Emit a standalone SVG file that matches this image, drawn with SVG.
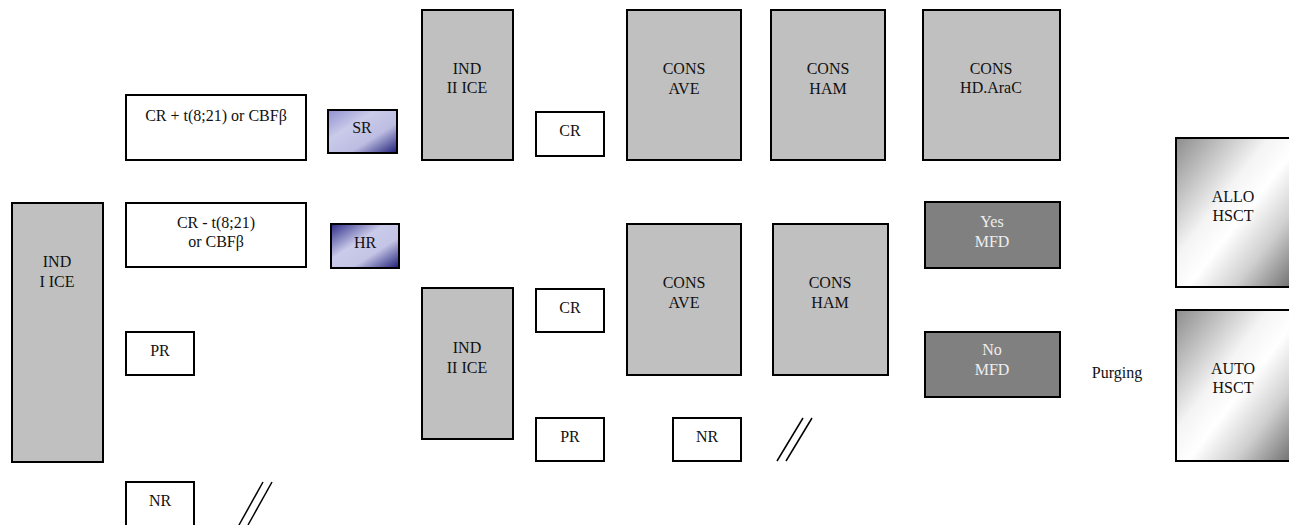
<svg xmlns="http://www.w3.org/2000/svg" width="1289" height="525" viewBox="0 0 1289 525">
<defs>
<linearGradient id="gSR" x1="0" y1="0" x2="1" y2="1">
<stop offset="0" stop-color="#9090cf"/><stop offset="0.35" stop-color="#cacaea"/><stop offset="0.65" stop-color="#bdbde2"/><stop offset="1" stop-color="#1c1c78"/>
</linearGradient>
<linearGradient id="gHR" x1="0" y1="0" x2="1" y2="1">
<stop offset="0" stop-color="#2a2a85"/><stop offset="0.4" stop-color="#cacaea"/><stop offset="0.65" stop-color="#c4c4e6"/><stop offset="1" stop-color="#1c1c78"/>
</linearGradient>
<linearGradient id="gSil" x1="0" y1="0" x2="1" y2="1">
<stop offset="0" stop-color="#8c8c8c"/><stop offset="0.4" stop-color="#f4f4f4"/><stop offset="0.55" stop-color="#ffffff"/><stop offset="0.75" stop-color="#d0d0d0"/><stop offset="1" stop-color="#6e6e6e"/>
</linearGradient>
</defs>
<style>
rect{stroke:#000;stroke-width:2}
.w{fill:#fff}
.g{fill:#c0c0c0}
.d{fill:#808080}
text{font-family:"Times New Roman","Liberation Serif",Times,serif;font-size:16px;text-anchor:middle;fill:#111}
.lt{fill:#eeeeee}
.sl{stroke:#000;stroke-width:1.5;fill:none}
</style>
<rect width="1289" height="525" fill="#fff" style="stroke:none"/>
<g id="ind1"><rect class="g" x="12" y="203" width="91" height="259"/><text x="57" y="267">IND</text><text x="57" y="287">I ICE</text></g>
<g id="crplus"><rect class="w" x="126" y="95" width="180" height="65"/><text x="216" y="121">CR + t(8;21) or CBFβ</text></g>
<g id="sr"><rect x="328" y="110" width="69" height="43" fill="url(#gSR)"/><text x="362" y="133">SR</text></g>
<g id="crminus"><rect class="w" x="126" y="203" width="180" height="64"/><text x="216" y="228">CR - t(8;21)</text><text x="216" y="247">or CBFβ</text></g>
<g id="hr"><rect x="331" y="224" width="68" height="44" fill="url(#gHR)"/><text x="365" y="248">HR</text></g>
<g id="pr1"><rect class="w" x="126" y="332" width="68" height="43"/><text x="160" y="356">PR</text></g>
<g id="nr1"><rect class="w" x="126" y="482" width="68" height="44"/><text x="160" y="506">NR</text></g>
<g id="ind2a"><rect class="g" x="422" y="10" width="91" height="150"/><text x="467" y="74">IND</text><text x="467" y="93">II ICE</text></g>
<g id="cr2a"><rect class="w" x="536" y="112" width="68" height="44"/><text x="570" y="136">CR</text></g>
<g id="avea"><rect class="g" x="627" y="10" width="114" height="150"/><text x="684" y="74">CONS</text><text x="684" y="94">AVE</text></g>
<g id="hama"><rect class="g" x="771" y="10" width="114" height="150"/><text x="828" y="74">CONS</text><text x="828" y="94">HAM</text></g>
<g id="hdarac"><rect class="g" x="923" y="10" width="137" height="150"/><text x="991" y="74">CONS</text><text x="991" y="93">HD.AraC</text></g>
<g id="yesmfd"><rect class="d" x="925" y="202" width="135" height="66"/><text class="lt" x="992" y="227">Yes</text><text class="lt" x="992" y="247">MFD</text></g>
<g id="allo"><rect x="1176" y="138" width="116" height="149" fill="url(#gSil)"/><text x="1233" y="202">ALLO</text><text x="1233" y="221">HSCT</text></g>
<g id="ind2b"><rect class="g" x="422" y="288" width="91" height="151"/><text x="467" y="353">IND</text><text x="467" y="373">II ICE</text></g>
<g id="cr2b"><rect class="w" x="536" y="289" width="68" height="43"/><text x="570" y="313">CR</text></g>
<g id="aveb"><rect class="g" x="627" y="224" width="114" height="151"/><text x="684" y="288">CONS</text><text x="684" y="308">AVE</text></g>
<g id="hamb"><rect class="g" x="773" y="224" width="115" height="151"/><text x="830" y="288">CONS</text><text x="830" y="308">HAM</text></g>
<g id="pr2"><rect class="w" x="536" y="418" width="68" height="43"/><text x="570" y="442">PR</text></g>
<g id="nr2"><rect class="w" x="673" y="418" width="68" height="43"/><text x="707" y="442">NR</text></g>
<g id="nomfd"><rect class="d" x="925" y="332" width="135" height="65"/><text class="lt" x="992" y="355">No</text><text class="lt" x="992" y="375">MFD</text></g>
<g id="purging"><text x="1117" y="378">Purging</text></g>
<g id="auto"><rect x="1176" y="310" width="116" height="151" fill="url(#gSil)"/><text x="1233" y="374">AUTO</text><text x="1233" y="393">HSCT</text></g>
<g id="connectors">
<line class="sl" x1="239" y1="525" x2="263" y2="482"/><line class="sl" x1="248" y1="525" x2="272" y2="482"/>
<line class="sl" x1="777" y1="461" x2="803" y2="418"/><line class="sl" x1="786" y1="461" x2="812" y2="418"/>
</g>
</svg>
